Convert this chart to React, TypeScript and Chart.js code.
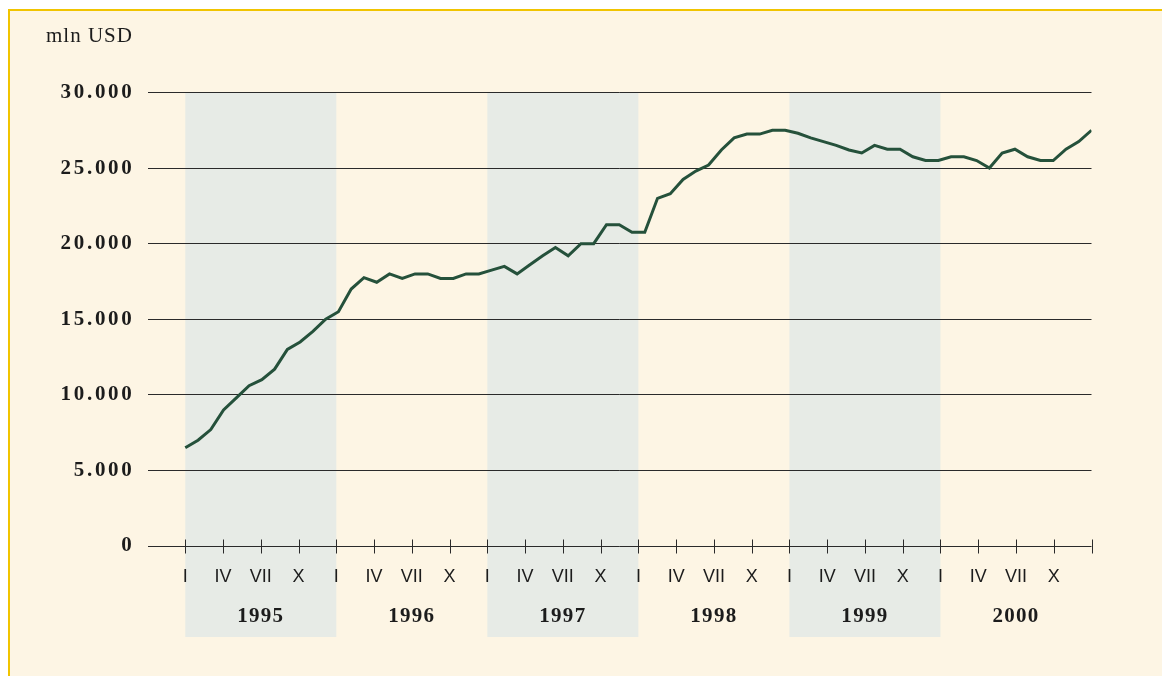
import React, { useEffect, useRef } from 'react';
import { Chart, registerables } from 'chart.js';

Chart.register(...registerables);

// ---- data ----
const YEARS = ['1995', '1996', '1997', '1998', '1999', '2000'];
const SHADED_YEARS = ['1995', '1997', '1999'];
const QUARTER_LABELS = ['I', 'IV', 'VII', 'X'];
const Y_TICKS = [0, 5000, 10000, 15000, 20000, 25000, 30000];
const TITLE = 'mln USD';

// monthly values, Jan 1995 .. Dec 2000 (mln USD)
const VALUES_1995 = [6500, 7000, 7700, 9000, 9800, 10600, 11000, 11700, 13000, 13500, 14200, 15000];
const VALUES_1996 = [15500, 17000, 17750, 17450, 18000, 17700, 18000, 18000, 17700, 17700, 18000, 18000];
const VALUES_1997 = [18250, 18500, 18000, 18600, 19200, 19750, 19200, 20000, 20000, 21250, 21250, 20750];
const VALUES_1998 = [20750, 23000, 23300, 24250, 24800, 25200, 26200, 27000, 27250, 27250, 27500, 27500];
const VALUES_1999 = [27300, 27000, 26750, 26500, 26200, 26000, 26500, 26250, 26250, 25750, 25500, 25500];
const VALUES_2000 = [25750, 25750, 25500, 25000, 26000, 26250, 25750, 25500, 25500, 26250, 26750, 27500];

const VALUES = [
  ...VALUES_1995, ...VALUES_1996, ...VALUES_1997,
  ...VALUES_1998, ...VALUES_1999, ...VALUES_2000,
];

// ---- derived axis config ----
const MONTHS = YEARS.length * 12; // 72
const LEAD_MONTHS = 3; // empty space before first tick
const QUARTER_TICKS = Array.from({ length: MONTHS / 3 + 1 }, (_, i) => i * 3);
const YEAR_TICKS = YEARS.map((_, i) => i * 12 + 6);
const DATA_MAX = VALUES.length - 1;
const DATA_MIN = -LEAD_MONTHS * DATA_MAX / MONTHS;

const fmt = (v: number) => String(v).replace(/\B(?=(\d{3})+(?!\d))/g, '.');

const SERIF = "'Liberation Serif', 'Times New Roman', serif";
const SANS = "'Liberation Sans', Arial, sans-serif";
const TEXT = '#1c1c1c';

const spacingPlugin = {
  id: 'letterSpacing',
  afterLayout(chart: any) {
    const wrap = (obj: any, method: string, spacing: string) => {
      if (!obj || obj['__ls_' + method]) return;
      const orig = obj[method];
      obj[method] = function (...args: any[]) {
        const ctx = chart.ctx;
        ctx.save();
        ctx.letterSpacing = spacing;
        const r = orig.apply(this, args);
        ctx.restore();
        return r;
      };
      obj['__ls_' + method] = true;
    };
    wrap(chart.scales.y, 'drawLabels', '2.7px');
    wrap(chart.scales.xy, 'drawLabels', '1.3px');
    wrap(chart.titleBlock, 'draw', '1px');
  },
};

const bandsPlugin = {
  id: 'bands',
  beforeDraw(chart: any) {
    const { ctx, scales } = chart;
    const xq = scales.xq;
    const xy = scales.xy;
    const top = scales.y.getPixelForValue(Y_TICKS[Y_TICKS.length - 1]);
    const bottom = xy.bottom - 1;
    ctx.save();
    ctx.fillStyle = '#E7EBE6';
    SHADED_YEARS.forEach((yr) => {
      const i = YEARS.indexOf(yr);
      const x0 = xq.getPixelForValue(i * 12);
      const x1 = xq.getPixelForValue((i + 1) * 12);
      ctx.fillRect(x0, top, x1 - x0, bottom - top);
    });
    ctx.restore();
  },
};

const tickMarksPlugin = {
  id: 'tickMarks',
  afterDraw(chart: any) {
    const { ctx, scales } = chart;
    const xq = scales.xq;
    const y0 = Math.round(scales.y.getPixelForValue(0)) + 0.5;
    ctx.save();
    ctx.strokeStyle = '#2a2a2a';
    ctx.lineWidth = 1;
    ctx.beginPath();
    xq.ticks.forEach((t: any) => {
      const x = Math.round(xq.getPixelForValue(t.value)) + 0.5;
      ctx.moveTo(x, y0 - 7);
      ctx.lineTo(x, y0 + 7);
    });
    ctx.stroke();
    ctx.restore();
  },
};

export default function App() {
  const ref = useRef<HTMLCanvasElement>(null);

  useEffect(() => {
    if (!ref.current) return;
    const chart = new Chart(ref.current, {
      type: 'line',
      data: {
        datasets: [
          {
            data: VALUES.map((v, i) => ({ x: i, y: v })),
            borderColor: '#25513B',
            borderWidth: 3,
            pointRadius: 0,
            fill: false,
            tension: 0,
            xAxisID: 'x',
            yAxisID: 'y',
          },
        ],
      },
      options: {
        responsive: false,
        animation: false,
        devicePixelRatio: 1,
        layout: { padding: { left: 46, right: 70.5, top: 24, bottom: 38 } },
        plugins: {
          legend: { display: false },
          tooltip: { enabled: false },
          title: {
            display: true,
            text: TITLE,
            align: 'start',
            color: TEXT,
            font: { family: SERIF, size: 21, weight: 'normal' },
            padding: { top: 0, bottom: 43.3 },
          },
        },
        scales: {
          x: {
            type: 'linear',
            display: false,
            min: DATA_MIN,
            max: DATA_MAX,
          },
          xq: {
            type: 'linear',
            position: 'bottom',
            weight: 1,
            min: -LEAD_MONTHS,
            max: MONTHS,
            afterBuildTicks: (s: any) => {
              s.ticks = QUARTER_TICKS.map((v) => ({ value: v }));
            },
            afterFit: (s: any) => {
              s.height = 52;
            },
            grid: { display: false, drawTicks: false },
            border: { display: false },
            ticks: {
              autoSkip: false,
              maxRotation: 0,
              padding: 20,
              color: TEXT,
              font: { family: SANS, size: 18 },
              callback: (v: any) => {
                const m = Math.round(Number(v));
                if (m >= MONTHS) return '';
                return QUARTER_LABELS[(m / 3) % 4];
              },
            },
          },
          xy: {
            type: 'linear',
            position: 'bottom',
            weight: 2,
            min: -LEAD_MONTHS,
            max: MONTHS,
            afterBuildTicks: (s: any) => {
              s.ticks = YEAR_TICKS.map((v) => ({ value: v }));
            },
            afterFit: (s: any) => {
              s.height = 40;
            },
            grid: { display: false, drawTicks: false },
            border: { display: false },
            ticks: {
              autoSkip: false,
              maxRotation: 0,
              padding: 6,
              color: TEXT,
              font: { family: SERIF, size: 21, weight: 'bold' },
              callback: (_v: any, i: number) => YEARS[i],
            },
          },
          y: {
            type: 'linear',
            min: Y_TICKS[0],
            max: Y_TICKS[Y_TICKS.length - 1],
            afterBuildTicks: (s: any) => {
              s.ticks = Y_TICKS.map((v) => ({ value: v }));
            },
            afterFit: (s: any) => {
              s.width = 101.5;
            },
            grid: { color: '#2a2a2a', lineWidth: 1, drawTicks: false },
            border: { display: false },
            ticks: {
              padding: 13,
              color: TEXT,
              font: { family: SERIF, size: 21, weight: 'bold' },
              callback: (v: any) => fmt(Number(v)),
            },
          },
        },
      } as any,
      plugins: [spacingPlugin, bandsPlugin, tickMarksPlugin],
    });
    return () => chart.destroy();
  }, []);

  return (
    <>
      <div
        style={{
          position: 'fixed',
          left: 8,
          top: 9,
          width: 1154,
          height: 667,
          boxSizing: 'border-box',
          borderTop: '2px solid #F1C400',
          borderLeft: '2px solid #F1C400',
          background: '#FDF5E4',
        }}
      />
      <canvas
        ref={ref}
        width={1162}
        height={676}
        style={{ position: 'fixed', left: 0, top: 0, width: 1162, height: 676 }}
      />
    </>
  );
}
